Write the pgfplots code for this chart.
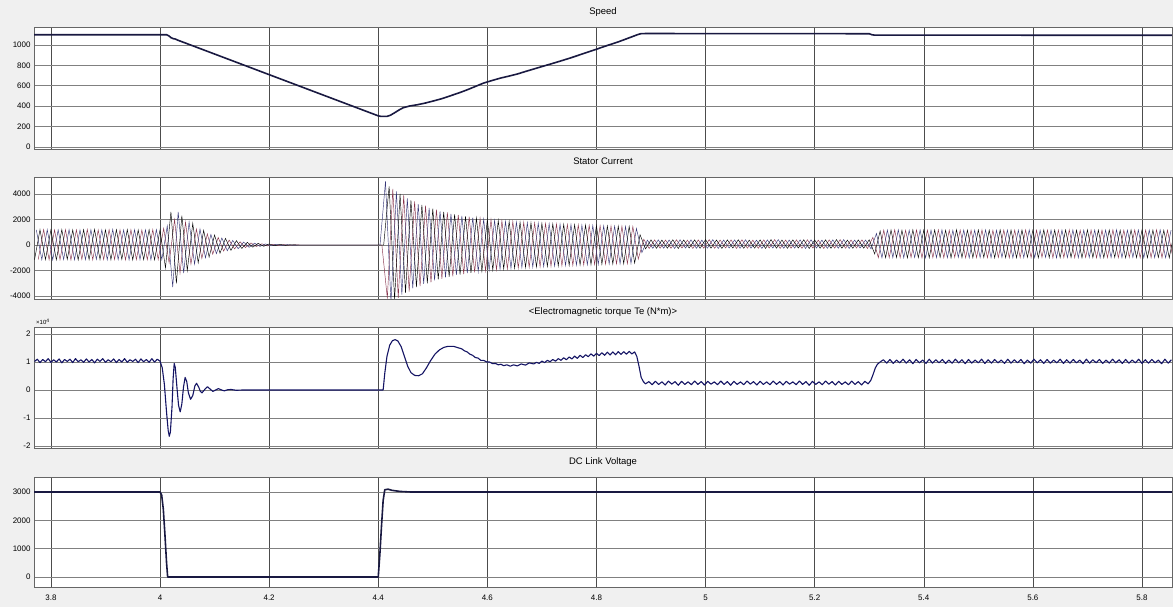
\documentclass[border=0pt]{standalone}
\usepackage{pgfplots}
\pgfplotsset{compat=1.18}
\usepackage{fontspec}
\setmainfont{Liberation Sans}
\definecolor{bgc}{RGB}{240,240,240}
\definecolor{navy}{RGB}{25,25,65}
\definecolor{tq}{RGB}{20,20,100}
\definecolor{ph2}{RGB}{135,50,75}
\definecolor{ph3}{RGB}{55,55,120}
\pgfplotsset{
 panel/.style={width=1138bp, scale only axis, anchor=south west,
  xmin=3.769, xmax=5.855, xtick={3.8,4,4.2,4.4,4.6,4.8,5,5.2,5.4,5.6,5.8},
  xticklabels={}, grid=major,
  x grid style={black!70, line width=0.5pt},
  y grid style={black!50, line width=0.6pt},
  axis line style={black!60}, major tick length=0pt,
  tick label style={font=\fontsize{8}{9}\selectfont},
  title style={at={(0.5,1)}, anchor=base, yshift=6.5bp, inner sep=0pt, font=\fontsize{9.5}{11}\selectfont},
  axis background/.style={fill=white},
 }
}
\begin{document}
\begin{tikzpicture}
\fill[bgc] (0,0) rectangle (1173bp,607bp);
% ---------- Speed
\begin{axis}[panel, at={(34bp,458bp)}, height=122bp, ymin=-20, ymax=1176,
  ytick={0,200,400,600,800,1000}, yticklabels={0,200,400,600,800,1000}, title={Speed}]
\addplot[navy, line width=1.6pt, line join=round] coordinates {(3.769,1100)(4.012,1100)(4.016,1090)(4.020,1072)(4.024,1062)(4.028,1058)(4.032,1048)(4.036,1040)(4.100,911)(4.200,709)(4.300,507)(4.400,305)(4.405,300)(4.416,300)(4.422,310)(4.430,335)(4.438,362)(4.446,385)(4.458,402)(4.471,413)(4.486,430)(4.502,452)(4.517,474)(4.532,501)(4.548,530)(4.563,560)(4.578,593)(4.593,626)(4.609,652)(4.624,675)(4.640,695)(4.655,715)(4.670,740)(4.685,764)(4.700,788)(4.716,813)(4.734,842)(4.752,872)(4.776,915)(4.801,960)(4.820,995)(4.840,1030)(4.860,1070)(4.875,1100)(4.881,1110)(4.890,1112)(5.300,1110)(5.305,1100)(5.310,1096)(5.855,1095)};
\end{axis}
% ---------- Stator current
\begin{axis}[panel, at={(34bp,308bp)}, height=122bp, ymin=-4235, ymax=5333,
  ytick={-4000,-2000,0,2000,4000}, yticklabels={-4000,-2000,0,2000,4000}, title={Stator Current}]
\addplot[ph2, line width=0.45pt] coordinates {(3.7767,-1140)(3.7867,1210)(3.7967,-1160)(3.8067,1180)(3.8167,-1150)(3.8267,1200)(3.8367,-1170)(3.8467,1190)(3.8567,-1130)(3.8667,1220)(3.8767,-1160)(3.8867,1180)(3.8967,-1150)(3.9067,1210)(3.9167,-1140)(3.9267,1190)(3.9367,-1170)(3.9467,1200)(3.9567,-1150)(3.9667,1180)(3.9767,-1160)(3.9867,1210)(3.9967,-1140)(4.0067,1300)(4.0167,-1400)(4.0267,2000)(4.0367,-2200)(4.0467,1800)(4.0567,-1500)(4.0667,1250)(4.0767,-1050)(4.0867,870)(4.0967,-720)(4.1067,590)(4.1167,-480)(4.1267,390)(4.1367,-310)(4.1467,250)(4.1567,-200)(4.1667,160)(4.1767,-120)(4.1867,95)(4.1967,-75)(4.2067,55)(4.2167,-40)(4.2267,30)(4.2367,-20)(4.2467,10)(4.2567,0)(4.4067,0)(4.4167,-4200)(4.4267,4400)(4.4367,-4150)(4.4467,3900)(4.4567,-3650)(4.4667,3420)(4.4767,-3230)(4.4867,3080)(4.4967,-2930)(4.5067,2780)(4.5167,-2650)(4.5267,2550)(4.5367,-2450)(4.5467,2360)(4.5567,-2290)(4.5667,2220)(4.5767,-2150)(4.5867,2090)(4.5967,-2030)(4.6067,1980)(4.6167,-1940)(4.6267,1900)(4.6367,-1870)(4.6467,1840)(4.6567,-1800)(4.6667,1780)(4.6767,-1750)(4.6867,1730)(4.6967,-1710)(4.7067,1690)(4.7167,-1670)(4.7267,1650)(4.7367,-1630)(4.7467,1610)(4.7567,-1600)(4.7667,1580)(4.7767,-1560)(4.7867,1550)(4.7967,-1530)(4.8067,1520)(4.8167,-1500)(4.8267,1490)(4.8367,-1480)(4.8467,1470)(4.8567,-1460)(4.8667,1450)(4.8767,-1100)(4.8867,450)(4.8967,-270)(4.9067,400)(4.9167,-250)(4.9267,390)(4.9367,-260)(4.9467,410)(4.9567,-240)(4.9667,380)(4.9767,-270)(4.9867,400)(4.9967,-250)(5.0067,420)(5.0167,-260)(5.0267,390)(5.0367,-240)(5.0467,400)(5.0567,-270)(5.0667,410)(5.0767,-250)(5.0867,380)(5.0967,-260)(5.1067,400)(5.1167,-240)(5.1267,420)(5.1367,-270)(5.1467,390)(5.1567,-250)(5.1667,400)(5.1767,-260)(5.1867,410)(5.1967,-240)(5.2067,380)(5.2167,-270)(5.2267,400)(5.2367,-250)(5.2467,420)(5.2567,-260)(5.2667,390)(5.2767,-240)(5.2867,400)(5.2967,-270)(5.3067,600)(5.3167,-1000)(5.3267,1170)(5.3367,-990)(5.3467,1190)(5.3567,-1000)(5.3667,1160)(5.3767,-980)(5.3867,1180)(5.3967,-1010)(5.4067,1170)(5.4167,-990)(5.4267,1190)(5.4367,-1000)(5.4467,1160)(5.4567,-970)(5.4667,1180)(5.4767,-1010)(5.4867,1170)(5.4967,-990)(5.5067,1190)(5.5167,-1000)(5.5267,1160)(5.5367,-980)(5.5467,1180)(5.5567,-1010)(5.5667,1170)(5.5767,-990)(5.5867,1190)(5.5967,-1000)(5.6067,1160)(5.6167,-970)(5.6267,1180)(5.6367,-1010)(5.6467,1170)(5.6567,-990)(5.6667,1190)(5.6767,-1000)(5.6867,1160)(5.6967,-980)(5.7067,1180)(5.7167,-1010)(5.7267,1170)(5.7367,-990)(5.7467,1190)(5.7567,-1000)(5.7667,1160)(5.7767,-970)(5.7867,1180)(5.7967,-1010)(5.8067,1170)(5.8167,-990)(5.8267,1190)(5.8367,-1000)(5.8467,1160)(5.8567,-980)};
\addplot[ph3, line width=0.45pt] coordinates {(3.7733,1180)(3.7833,-1150)(3.7933,1200)(3.8033,-1170)(3.8133,1190)(3.8233,-1140)(3.8333,1210)(3.8433,-1160)(3.8533,1180)(3.8633,-1150)(3.8733,1200)(3.8833,-1130)(3.8933,1190)(3.9033,-1160)(3.9133,1220)(3.9233,-1150)(3.9333,1180)(3.9433,-1170)(3.9533,1200)(3.9633,-1140)(3.9733,1190)(3.9833,-1160)(3.9933,1210)(4.0033,-1150)(4.0133,1500)(4.0233,-3300)(4.0333,2600)(4.0433,-2200)(4.0533,1800)(4.0633,-1500)(4.0733,1250)(4.0833,-1000)(4.0933,830)(4.1033,-680)(4.1133,550)(4.1233,-450)(4.1333,360)(4.1433,-290)(4.1533,230)(4.1633,-180)(4.1733,140)(4.1833,-110)(4.1933,85)(4.2033,-65)(4.2133,50)(4.2233,-35)(4.2333,25)(4.2433,-15)(4.2533,0)(4.4033,0)(4.4133,5000)(4.4233,-4500)(4.4333,4200)(4.4433,-3900)(4.4533,3650)(4.4633,-3400)(4.4733,3200)(4.4833,-3050)(4.4933,2900)(4.5033,-2770)(4.5133,2640)(4.5233,-2540)(4.5333,2440)(4.5433,-2350)(4.5533,2280)(4.5633,-2210)(4.5733,2150)(4.5833,-2090)(4.5933,2030)(4.6033,-1980)(4.6133,1940)(4.6233,-1900)(4.6333,1860)(4.6433,-1830)(4.6533,1800)(4.6633,-1770)(4.6733,1750)(4.6833,-1730)(4.6933,1710)(4.7033,-1690)(4.7133,1670)(4.7233,-1650)(4.7333,1630)(4.7433,-1610)(4.7533,1600)(4.7633,-1580)(4.7733,1560)(4.7833,-1550)(4.7933,1530)(4.8033,-1520)(4.8133,1500)(4.8233,-1490)(4.8333,1480)(4.8433,-1470)(4.8533,1460)(4.8633,-1450)(4.8733,1300)(4.8833,-600)(4.8933,380)(4.9033,-260)(4.9133,400)(4.9233,-250)(4.9333,390)(4.9433,-270)(4.9533,410)(4.9633,-240)(4.9733,400)(4.9833,-260)(4.9933,380)(5.0033,-250)(5.0133,420)(5.0233,-270)(5.0333,390)(5.0433,-240)(5.0533,400)(5.0633,-260)(5.0733,410)(5.0833,-250)(5.0933,380)(5.1033,-270)(5.1133,400)(5.1233,-240)(5.1333,420)(5.1433,-260)(5.1533,390)(5.1633,-250)(5.1733,400)(5.1833,-270)(5.1933,410)(5.2033,-240)(5.2133,380)(5.2233,-260)(5.2333,400)(5.2433,-250)(5.2533,420)(5.2633,-270)(5.2733,390)(5.2833,-240)(5.2933,390)(5.3033,-300)(5.3133,900)(5.3233,-1000)(5.3333,1170)(5.3433,-990)(5.3533,1190)(5.3633,-1000)(5.3733,1160)(5.3833,-980)(5.3933,1180)(5.4033,-1010)(5.4133,1170)(5.4233,-990)(5.4333,1190)(5.4433,-1000)(5.4533,1160)(5.4633,-970)(5.4733,1180)(5.4833,-1010)(5.4933,1170)(5.5033,-990)(5.5133,1190)(5.5233,-1000)(5.5333,1160)(5.5433,-980)(5.5533,1180)(5.5633,-1010)(5.5733,1170)(5.5833,-990)(5.5933,1190)(5.6033,-1000)(5.6133,1160)(5.6233,-970)(5.6333,1180)(5.6433,-1010)(5.6533,1170)(5.6633,-990)(5.6733,1190)(5.6833,-1000)(5.6933,1160)(5.7033,-980)(5.7133,1180)(5.7233,-1010)(5.7333,1170)(5.7433,-990)(5.7533,1190)(5.7633,-1000)(5.7733,1160)(5.7833,-970)(5.7933,1180)(5.8033,-1010)(5.8133,1170)(5.8233,-990)(5.8333,1190)(5.8433,-1000)(5.8533,1160)};
\addplot[black, line width=0.45pt] coordinates {(3.77,-1150)(3.78,1200)(3.79,-1140)(3.80,1190)(3.81,-1160)(3.82,1210)(3.83,-1130)(3.84,1180)(3.85,-1170)(3.86,1200)(3.87,-1150)(3.88,1220)(3.89,-1140)(3.90,1190)(3.91,-1160)(3.92,1200)(3.93,-1130)(3.94,1210)(3.95,-1170)(3.96,1180)(3.97,-1150)(3.98,1200)(3.99,-1160)(4.00,1190)(4.01,-1800)(4.02,2600)(4.03,-3000)(4.04,2300)(4.05,-2000)(4.06,1700)(4.07,-1400)(4.08,1150)(4.09,-950)(4.10,780)(4.11,-640)(4.12,520)(4.13,-420)(4.14,340)(4.15,-270)(4.16,210)(4.17,-170)(4.18,130)(4.19,-100)(4.20,80)(4.21,-60)(4.22,45)(4.23,-30)(4.24,20)(4.25,0)(4.41,0)(4.42,4600)(4.43,-4300)(4.44,4000)(4.45,-3750)(4.46,3500)(4.47,-3300)(4.48,3150)(4.49,-3000)(4.50,2850)(4.51,-2700)(4.52,2600)(4.53,-2500)(4.54,2400)(4.55,-2320)(4.56,2250)(4.57,-2180)(4.58,2120)(4.59,-2060)(4.60,2000)(4.61,-1960)(4.62,1920)(4.63,-1880)(4.64,1850)(4.65,-1820)(4.66,1790)(4.67,-1760)(4.68,1740)(4.69,-1720)(4.70,1700)(4.71,-1680)(4.72,1660)(4.73,-1640)(4.74,1620)(4.75,-1600)(4.76,1590)(4.77,-1570)(4.78,1560)(4.79,-1540)(4.80,1530)(4.81,-1510)(4.82,1500)(4.83,-1490)(4.84,1480)(4.85,-1470)(4.86,1460)(4.87,-1420)(4.88,800)(4.89,-300)(4.90,400)(4.91,-260)(4.92,380)(4.93,-250)(4.94,410)(4.95,-270)(4.96,390)(4.97,-240)(4.98,400)(4.99,-260)(5.00,420)(5.01,-250)(5.02,390)(5.03,-270)(5.04,400)(5.05,-240)(5.06,410)(5.07,-260)(5.08,380)(5.09,-250)(5.10,400)(5.11,-270)(5.12,420)(5.13,-250)(5.14,390)(5.15,-260)(5.16,400)(5.17,-240)(5.18,410)(5.19,-270)(5.20,390)(5.21,-250)(5.22,400)(5.23,-260)(5.24,420)(5.25,-250)(5.26,380)(5.27,-260)(5.28,400)(5.29,-250)(5.30,410)(5.31,-700)(5.32,1100)(5.33,-1000)(5.34,1180)(5.35,-980)(5.36,1160)(5.37,-1010)(5.38,1190)(5.39,-990)(5.40,1170)(5.41,-1000)(5.42,1180)(5.43,-970)(5.44,1160)(5.45,-1010)(5.46,1190)(5.47,-990)(5.48,1170)(5.49,-1000)(5.50,1180)(5.51,-980)(5.52,1160)(5.53,-1010)(5.54,1190)(5.55,-990)(5.56,1170)(5.57,-1000)(5.58,1180)(5.59,-970)(5.60,1160)(5.61,-1010)(5.62,1190)(5.63,-990)(5.64,1170)(5.65,-1000)(5.66,1180)(5.67,-980)(5.68,1160)(5.69,-1010)(5.70,1190)(5.71,-990)(5.72,1170)(5.73,-1000)(5.74,1180)(5.75,-970)(5.76,1160)(5.77,-1010)(5.78,1190)(5.79,-990)(5.80,1170)(5.81,-1000)(5.82,1180)(5.83,-980)(5.84,1160)(5.85,-1010)(5.86,1190)};
\end{axis}
% ---------- Torque
\begin{axis}[panel, name=tqax, at={(34bp,159bp)}, height=121bp, ymin=-2.07, ymax=2.25,
  ytick={-2,-1,0,1,2}, yticklabels={-2,-1,0,1,2}, title={<Electromagnetic torque Te (N*m)>}]
\addplot[tq, line width=1.1pt, line join=round] coordinates {(3.770,1.02)(3.775,1.10)(3.780,0.98)(3.785,1.09)(3.790,1.01)(3.795,1.12)(3.800,0.99)(3.805,1.08)(3.810,1.00)(3.815,1.11)(3.820,0.97)(3.825,1.09)(3.830,1.02)(3.835,1.10)(3.840,0.98)(3.845,1.12)(3.850,1.01)(3.855,1.08)(3.860,0.99)(3.865,1.11)(3.870,1.00)(3.875,1.09)(3.880,0.97)(3.885,1.10)(3.890,1.02)(3.895,1.12)(3.900,0.99)(3.905,1.08)(3.910,1.01)(3.915,1.11)(3.920,0.98)(3.925,1.09)(3.930,1.00)(3.935,1.12)(3.940,0.99)(3.945,1.08)(3.950,1.02)(3.955,1.10)(3.960,0.98)(3.965,1.11)(3.970,1.01)(3.975,1.09)(3.980,0.99)(3.985,1.12)(3.990,1.00)(3.995,1.10)(4.000,1.03)(4.004,0.80)(4.008,0.20)(4.012,-0.80)(4.015,-1.45)(4.017,-1.65)(4.019,-1.50)(4.022,-0.60)(4.024,0.40)(4.026,0.95)(4.028,0.80)(4.031,0.10)(4.034,-0.55)(4.037,-0.78)(4.040,-0.50)(4.043,0.10)(4.046,0.45)(4.049,0.30)(4.052,-0.10)(4.056,-0.33)(4.060,-0.20)(4.064,0.15)(4.067,0.24)(4.071,0.10)(4.074,-0.05)(4.077,-0.10)(4.082,0.02)(4.087,0.12)(4.092,0.03)(4.097,-0.05)(4.102,0.00)(4.107,0.05)(4.113,0.00)(4.118,-0.03)(4.124,0.01)(4.130,0.02)(4.140,-0.01)(4.150,0.00)(4.409,0.00)(4.412,0.60)(4.416,1.20)(4.421,1.60)(4.426,1.76)(4.431,1.80)(4.436,1.75)(4.442,1.55)(4.448,1.20)(4.454,0.85)(4.460,0.62)(4.467,0.52)(4.474,0.51)(4.481,0.58)(4.488,0.78)(4.496,1.05)(4.504,1.28)(4.512,1.43)(4.520,1.52)(4.528,1.56)(4.538,1.56)(4.548,1.50)(4.553,1.47)(4.558,1.40)(4.563,1.36)(4.568,1.28)(4.573,1.24)(4.578,1.16)(4.583,1.14)(4.588,1.06)(4.593,1.06)(4.599,1.00)(4.604,1.00)(4.610,0.94)(4.615,0.95)(4.620,0.90)(4.625,0.92)(4.630,0.87)(4.636,0.90)(4.642,0.85)(4.648,0.90)(4.655,0.86)(4.662,0.93)(4.670,0.89)(4.677,0.97)(4.685,0.93)(4.690,0.99)(4.695,0.95)(4.700,1.03)(4.705,0.98)(4.710,1.06)(4.715,1.01)(4.720,1.09)(4.725,1.03)(4.730,1.12)(4.735,1.06)(4.740,1.15)(4.745,1.08)(4.750,1.18)(4.755,1.11)(4.760,1.21)(4.765,1.13)(4.770,1.24)(4.775,1.16)(4.780,1.26)(4.785,1.19)(4.790,1.29)(4.795,1.21)(4.800,1.31)(4.805,1.23)(4.810,1.33)(4.815,1.24)(4.820,1.35)(4.825,1.25)(4.830,1.36)(4.835,1.26)(4.840,1.37)(4.845,1.27)(4.850,1.37)(4.855,1.28)(4.860,1.38)(4.865,1.29)(4.870,1.36)(4.874,1.20)(4.878,0.85)(4.882,0.45)(4.886,0.30)(4.890,0.22)(4.896,0.30)(4.902,0.19)(4.908,0.31)(4.914,0.20)(4.920,0.29)(4.926,0.18)(4.932,0.32)(4.938,0.21)(4.944,0.30)(4.950,0.17)(4.956,0.31)(4.962,0.20)(4.968,0.29)(4.974,0.19)(4.980,0.32)(4.986,0.20)(4.992,0.30)(4.998,0.18)(5.004,0.31)(5.010,0.21)(5.016,0.29)(5.022,0.19)(5.028,0.32)(5.034,0.20)(5.040,0.30)(5.046,0.17)(5.052,0.31)(5.058,0.20)(5.064,0.29)(5.070,0.19)(5.076,0.32)(5.082,0.21)(5.088,0.30)(5.094,0.18)(5.100,0.31)(5.106,0.20)(5.112,0.29)(5.118,0.19)(5.124,0.32)(5.130,0.20)(5.136,0.30)(5.142,0.18)(5.148,0.31)(5.154,0.21)(5.160,0.29)(5.166,0.19)(5.172,0.32)(5.178,0.20)(5.184,0.30)(5.190,0.17)(5.196,0.31)(5.202,0.20)(5.208,0.29)(5.214,0.19)(5.220,0.32)(5.226,0.21)(5.232,0.30)(5.238,0.18)(5.244,0.31)(5.250,0.20)(5.256,0.29)(5.262,0.19)(5.268,0.32)(5.274,0.20)(5.280,0.30)(5.286,0.18)(5.292,0.31)(5.298,0.22)(5.303,0.35)(5.307,0.55)(5.311,0.78)(5.315,0.92)(5.320,1.00)(5.326,1.08)(5.332,0.96)(5.338,1.09)(5.344,0.95)(5.350,1.07)(5.356,0.97)(5.362,1.10)(5.368,0.96)(5.374,1.08)(5.380,0.94)(5.386,1.09)(5.392,0.97)(5.398,1.07)(5.404,0.95)(5.410,1.10)(5.416,0.96)(5.422,1.08)(5.428,0.97)(5.434,1.09)(5.440,0.95)(5.446,1.07)(5.452,0.96)(5.458,1.10)(5.464,0.97)(5.470,1.08)(5.476,0.94)(5.482,1.09)(5.488,0.96)(5.494,1.07)(5.500,0.97)(5.506,1.10)(5.512,0.95)(5.518,1.08)(5.524,0.96)(5.530,1.09)(5.536,0.97)(5.542,1.07)(5.548,0.95)(5.554,1.10)(5.560,0.96)(5.566,1.08)(5.572,0.97)(5.578,1.09)(5.584,0.94)(5.590,1.07)(5.596,0.96)(5.602,1.10)(5.608,0.97)(5.614,1.08)(5.620,0.95)(5.626,1.09)(5.632,0.96)(5.638,1.07)(5.644,0.97)(5.650,1.10)(5.656,0.95)(5.662,1.08)(5.668,0.96)(5.674,1.09)(5.680,0.97)(5.686,1.07)(5.692,0.94)(5.698,1.10)(5.704,0.96)(5.710,1.08)(5.716,0.97)(5.722,1.09)(5.728,0.95)(5.734,1.07)(5.740,0.96)(5.746,1.10)(5.752,0.97)(5.758,1.08)(5.764,0.95)(5.770,1.09)(5.776,0.96)(5.782,1.07)(5.788,0.97)(5.794,1.10)(5.800,0.95)(5.806,1.08)(5.812,0.96)(5.818,1.09)(5.824,0.97)(5.830,1.07)(5.836,0.94)(5.842,1.10)(5.848,0.96)(5.854,1.08)};
\end{axis}
\node[anchor=south west, inner sep=0pt, font=\fontsize{6}{7}\selectfont] at ([xshift=2bp,yshift=2bp]tqax.north west) {×10\textsuperscript{4}};
% ---------- DC link voltage
\begin{axis}[panel, at={(34bp,20bp)}, height=110bp, ymin=-353, ymax=3530,
  ytick={0,1000,2000,3000}, yticklabels={0,1000,2000,3000},
  xticklabels={3.8,4,4.2,4.4,4.6,4.8,5,5.2,5.4,5.6,5.8},
  xticklabel style={yshift=-4bp}, title={DC Link Voltage}]
\addplot[navy, line width=1.6pt, line join=round] coordinates {(3.769,3000)(4.000,3000)(4.003,2900)(4.006,2400)(4.009,1500)(4.012,500)(4.014,0)(4.400,0)(4.403,800)(4.406,1800)(4.409,2700)(4.412,3080)(4.418,3100)(4.425,3060)(4.440,3020)(4.460,3000)(5.855,3000)};
\end{axis}
\pgfresetboundingbox
\path (0,0) rectangle (1173bp,607bp);
\end{tikzpicture}
\end{document}
